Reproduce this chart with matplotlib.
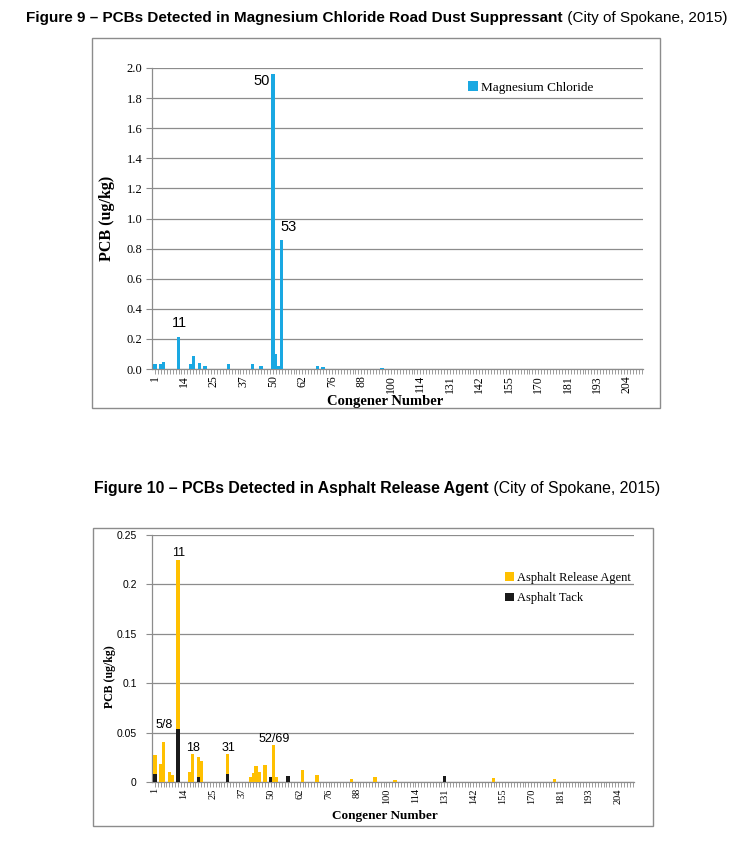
import matplotlib
matplotlib.use("Agg")
import matplotlib.pyplot as plt
from matplotlib.patches import Rectangle

W, H = 750, 851

# congener categories along the x axis (every 10th one is labelled)
categories = [
    "1", "2", "3", "5/8", "4/10", "6", "7", "9", "11", "12/13",
    "14", "15", "16", "18", "17", "19", "20/28", "21", "22", "23/24",
    "25", "26", "27", "29", "30", "31", "32", "33", "34", "35/36",
    "37", "38", "39", "40/41", "42", "43", "44/47", "45", "46", "48/49",
    "50", "52/69", "51", "53", "54", "55", "56/60", "57", "58", "59/61",
    "62", "63", "64", "65", "66", "67", "68", "70/74", "71/72", "73/75",
    "76", "77", "78", "79", "80", "81", "82", "83", "84/85", "86/87",
    "88", "89", "90", "91", "92", "93/94", "95", "96", "97", "98/99",
    "100", "101", "102", "103", "104", "105", "106/107", "108/109", "110/111", "112/113",
    "114", "115", "116/117", "118", "119/120", "121/122", "123/124", "125/126", "127", "128/129/130",
    "131", "132", "133", "134", "135", "136", "137", "138", "139/140", "141",
    "142", "143", "144", "145", "146", "147/149", "148", "150", "151/152", "153/154",
    "155", "156/157", "158", "159", "160", "161", "162", "163/164", "165/166", "167/168/169",
    "170", "171", "172", "173", "174", "175", "176", "177", "178", "179/180",
    "181", "182", "183", "184", "185", "186", "187", "188", "189/190", "191/192",
    "193", "194", "195", "196", "197", "198/199", "200", "201", "202", "203",
    "204", "205", "206", "207", "208", "209",
]

# Figure 9 - magnesium chloride (ug/kg)
mgcl_congeners = ["1", "3", "5/8", "11", "16", "18", "19", "21", "31", "40/41",
                  "44/47", "50", "52/69", "51", "53", "67", "70/74", "96", "132", "155"]
mgcl_values = [0.03, 0.03, 0.045, 0.215, 0.03, 0.085, 0.04, 0.02, 0.035, 0.032,
               0.022, 1.96, 0.10, 0.022, 0.86, 0.02, 0.015, 0.008, 0.003, 0.003]
fig9_labels = ["11", "50", "53"]

# Figure 10 - asphalt release agent and asphalt tack (ug/kg)
release_congeners = ["1", "3", "5/8", "6", "7", "11", "16", "18", "19", "20/28",
                     "31", "40/41", "42", "43", "44/47", "46", "52/69", "51", "63", "68",
                     "84/85", "95", "103", "150", "178"]
release_values = [0.027, 0.018, 0.040, 0.010, 0.007, 0.225, 0.010, 0.028, 0.025, 0.021,
                  0.028, 0.005, 0.009, 0.016, 0.010, 0.017, 0.037, 0.005, 0.012, 0.007,
                  0.003, 0.005, 0.0025, 0.004, 0.003]
tack_congeners = ["1", "11", "19", "31", "50", "56/60", "131"]
tack_values = [0.008, 0.054, 0.005, 0.008, 0.005, 0.006, 0.0065]
fig10_labels = ["5/8", "11", "18", "31", "52/69"]

BLUE = "#1AA8E2"
YELLOW = "#FFC000"
BLACK = "#1A1A1A"
GRID = "#8C8C8C"
SERIF = ["Liberation Serif", "DejaVu Serif"]
SANS = ["Liberation Sans", "DejaVu Sans"]


def fig_box(x0, y0, x1, y1):
    return [x0 / W, 1 - y1 / H, (x1 - x0) / W, (y1 - y0) / H]


def style_axis(ax, yticks, ylabels, xsize, ysize, yfamily, ypad):
    n = len(categories)
    ax.set_xlim(-1, n - 0.5)
    ax.set_ylim(yticks[0], yticks[-1])
    ax.set_xticks(range(n))
    ax.set_xticklabels([c if i % 10 == 0 else "" for i, c in enumerate(categories)],
                       rotation=90, family=SERIF, fontsize=xsize)
    ax.set_yticks(yticks)
    ax.set_yticklabels(ylabels, family=yfamily, fontsize=ysize)
    ax.tick_params(axis="x", length=3.5, width=0.6, color=GRID, pad=1)
    ax.tick_params(axis="y", length=4, width=0.8, color=GRID, pad=ypad)
    ax.yaxis.grid(True, color=GRID, lw=0.9)
    ax.set_axisbelow(True)
    for s in ["top", "right"]:
        ax.spines[s].set_visible(False)
    for s in ["left", "bottom"]:
        ax.spines[s].set_color(GRID)
        ax.spines[s].set_linewidth(0.9)


def add_title(y, bold, normal, size):
    t1 = fig.text(0, y, bold, fontsize=size, fontweight="bold", family=SANS,
                  va="center", ha="left")
    t2 = fig.text(0, y, normal, fontsize=size, family=SANS, va="center", ha="left")
    return t1, t2


fig = plt.figure(figsize=(W / 100, H / 100), dpi=100)
fig.patch.set_facecolor("white")

# outer frames
for (x0, y0, x1, y1) in [(92, 38, 660, 408), (93, 528, 653, 826)]:
    fig.add_artist(Rectangle((x0 / W, 1 - y1 / H), (x1 - x0) / W, (y1 - y0) / H,
                             transform=fig.transFigure, fill=False, ec=GRID, lw=1))

titles = [
    add_title(1 - 18 / H, "Figure 9 \u2013 PCBs Detected in Magnesium Chloride Road Dust Suppressant",
              " (City of Spokane, 2015)", 11.0),
    add_title(1 - 488 / H, "Figure 10 \u2013 PCBs Detected in Asphalt Release Agent",
              " (City of Spokane, 2015)", 11.4),
]

# ---- Figure 9 ----
ax1 = fig.add_axes(fig_box(152, 68, 643, 369))
y9 = [round(0.2 * i, 1) for i in range(11)]
style_axis(ax1, y9, ["%.1f" % v for v in y9], 8.5, 9, SERIF, 3)
x9 = [categories.index(c) for c in mgcl_congeners]
ax1.bar(x9, mgcl_values, width=1.1, color=BLUE, label="Magnesium Chloride", zorder=3)

for lab in fig9_labels:
    i = categories.index(lab)
    v = mgcl_values[mgcl_congeners.index(lab)]
    if lab == "50":
        ax1.annotate(lab, (i - 0.55, v), xytext=(-1, 0), textcoords="offset points",
                     ha="right", va="top", fontsize=10.5, family=SANS)
    elif lab == "53":
        ax1.annotate(lab, (i - 0.55, v), xytext=(0, 4), textcoords="offset points",
                     ha="left", va="bottom", fontsize=10.5, family=SANS)
    else:
        ax1.annotate(lab, (i, v), xytext=(1, 5), textcoords="offset points",
                     ha="center", va="bottom", fontsize=10.5, family=SANS)

ax1.legend(loc="upper left", bbox_to_anchor=(0.62, 0.995), frameon=False,
           handlelength=0.7, handleheight=0.7, handletextpad=0.25,
           prop={"family": SERIF, "size": 9.5})
fig.text(107 / W, 1 - 218 / H, "PCB (ug/kg)", rotation=90, ha="center", va="center",
         family=SERIF, fontweight="bold", fontsize=11.5)
fig.text(385 / W, 1 - 402 / H, "Congener Number", ha="center", va="center",
         family=SERIF, fontweight="bold", fontsize=10.5)

# ---- Figure 10 ----
ax2 = fig.add_axes(fig_box(152, 535, 634, 782))
y10 = [0, 0.05, 0.1, 0.15, 0.2, 0.25]
style_axis(ax2, y10, ["0", "0.05", "0.1", "0.15", "0.2", "0.25"], 7.5, 7.5, SANS, 7)
x_rel = [categories.index(c) for c in release_congeners]
x_tack = [categories.index(c) for c in tack_congeners]
ax2.bar(x_rel, release_values, width=1.2, color=YELLOW, label="Asphalt Release Agent", zorder=3)
ax2.bar(x_tack, tack_values, width=1.2, color=BLACK, label="Asphalt Tack", zorder=4)

for lab in fig10_labels:
    i = categories.index(lab)
    v = release_values[release_congeners.index(lab)]
    dy = 8 if lab == "5/8" else 0.5
    ax2.annotate(lab, (i + 0.3, v), xytext=(0, dy), textcoords="offset points",
                 ha="center", va="bottom", fontsize=9, family=SANS)

ax2.legend(loc="upper left", bbox_to_anchor=(0.71, 0.897), frameon=False,
           handlelength=0.7, handleheight=0.7, handletextpad=0.25, labelspacing=0.7,
           prop={"family": SERIF, "size": 9})
fig.text(110 / W, 1 - 677 / H, "PCB (ug/kg)", rotation=90, ha="center", va="center",
         family=SERIF, fontweight="bold", fontsize=8.5)
fig.text(385 / W, 1 - 816 / H, "Congener Number", ha="center", va="center",
         family=SERIF, fontweight="bold", fontsize=9.5)

# centre each two-part title on the page
fig.canvas.draw()
r = fig.canvas.get_renderer()
for t1, t2 in titles:
    w1 = t1.get_window_extent(r).width
    w2 = t2.get_window_extent(r).width
    x0 = W / 2 - (w1 + w2) / 2 + 2
    t1.set_x(x0 / W)
    t2.set_x((x0 + w1) / W)

fig.savefig("out.png", dpi=100, facecolor="white")
